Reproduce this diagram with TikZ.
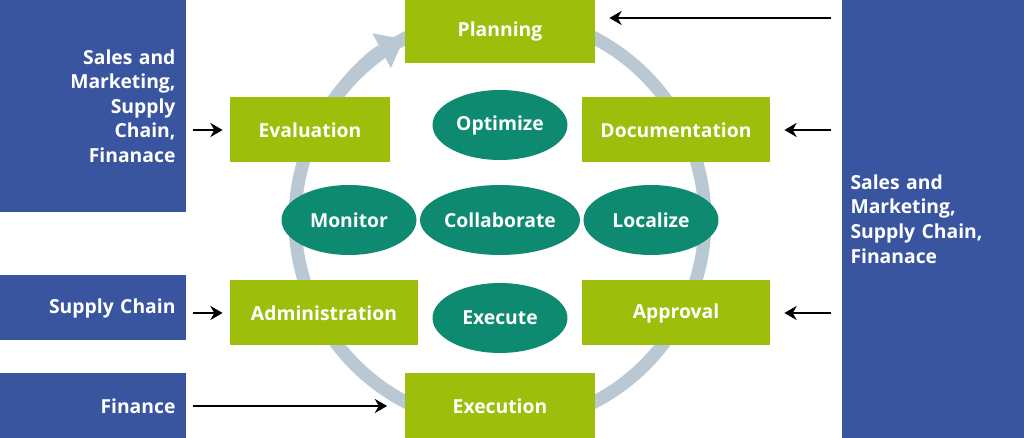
\documentclass[tikz,border=0pt]{standalone}
\usepackage{fontspec}
\setmainfont{Open Sans}
\usetikzlibrary{arrows.meta,positioning,shapes.geometric}
\definecolor{sideblue}{HTML}{3A55A0}
\definecolor{stagegreen}{HTML}{9DBE0A}
\definecolor{hubteal}{HTML}{0E8A70}
\definecolor{ringgrey}{HTML}{B9C8D2}
\tikzset{
  lbl/.style={text=white,font=\fontsize{11}{14}\selectfont\bfseries,inner sep=0pt},
  side/.style={lbl,fill=sideblue},
  stage/.style={lbl,fill=stagegreen,minimum height=1.3cm},
  hub/.style={lbl,ellipse,fill=hubteal,minimum width=2.7cm,minimum height=1.4cm},
  feed/.style={-{Stealth[length=7pt,width=8pt]},line width=1.6pt,black}
}
\begin{document}
\begin{tikzpicture}[x=0.02cm,y=0.02cm]
\useasboundingbox (0,0) rectangle (1024,438);
% ring
\draw[ringgrey,line width=0.26cm] (500,218) circle (4.1cm);
\draw[ringgrey,line width=0.26cm,-{Triangle[length=0.5cm,width=0.75cm]}] (500,218) ++(150:205) arc (150:118:205);
% side boxes
\node[side,minimum width=3.72cm,minimum height=4.24cm,align=right,text width=3.3cm] (salesL) at (93,332) {Sales and\\Marketing,\\Supply\\Chain,\\Finanace};
\node[side,minimum width=3.72cm,minimum height=1.3cm,align=right,text width=3.3cm] (supply) at (93,130) {Supply Chain};
\node[side,minimum width=3.72cm,minimum height=1.3cm,align=right,text width=3.3cm] (finance) at (93,32) {Finance};
\node[side,minimum width=3.64cm,minimum height=8.76cm,align=left,text width=3.3cm] (salesR) at (933,219) {Sales and\\Marketing,\\Supply Chain,\\Finanace};
% stages
\node[stage,minimum width=3.8cm] (plan) at (500,407) {Planning};
\node[stage,minimum width=3.2cm] (eval) at (310,308) {Evaluation};
\node[stage,minimum width=3.76cm] (doc) at (676,308) {Documentation};
\node[stage,minimum width=3.76cm] (admin) at (324,125) {Administration};
\node[stage,minimum width=3.76cm] (appr) at (676,125) {Approval};
\node[stage,minimum width=3.8cm] (exec) at (500,32) {Execution};
% hubs
\node[hub] (opt) at (500,313) {Optimize};
\node[hub] (mon) at (349,218) {Monitor};
\node[hub,minimum width=3.2cm] (collab) at (500,218) {Collaborate};
\node[hub] (loc) at (651,218) {Localize};
\node[hub] (exe) at (500,120) {Execute};
% feeds
\draw[feed,shorten <=4pt,shorten >=4pt] (salesL.east |- eval.west) -- (eval.west);
\draw[feed,shorten <=4pt,shorten >=4pt] (supply.east |- admin.west) -- (admin.west);
\draw[feed,shorten <=4pt,shorten >=10pt] (finance.east) -- (exec.west);
\draw[feed,shorten <=6pt,shorten >=8pt] ([yshift=0.26cm]salesR.west |- plan.east) -- ([yshift=0.26cm]plan.east);
\draw[feed,shorten <=6pt,shorten >=8pt] (salesR.west |- doc.east) -- (doc.east);
\draw[feed,shorten <=6pt,shorten >=8pt] (salesR.west |- appr.east) -- (appr.east);
\end{tikzpicture}
\end{document}
